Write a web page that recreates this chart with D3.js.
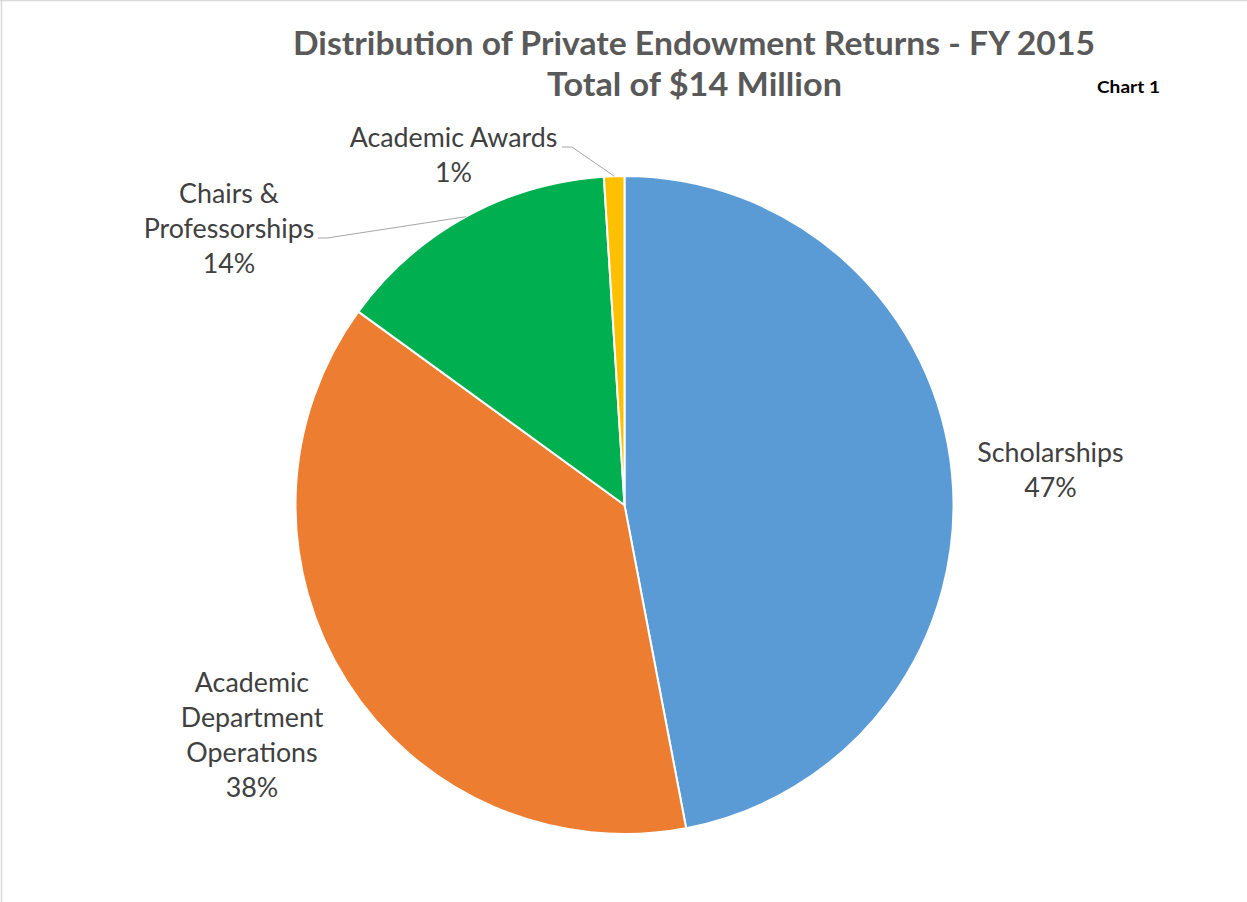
<!DOCTYPE html>
<html><head><meta charset="utf-8">
<script src="https://cdn.jsdelivr.net/npm/d3@7"></script>
<style>body{margin:0;background:#fff}svg{display:block}</style>
</head><body>
<svg id="c" width="1247" height="902"></svg>
<script>
const categories = ["Scholarships", "Academic Department Operations", "Chairs & Professorships", "Academic Awards"];
const values = [47, 38, 14, 1];
const colors = ["#5B9BD5", "#ED7D31", "#00B050", "#FFC000"];
const labelLines = [["Scholarships"], ["Academic", "Department", "Operations"], ["Chairs &", "Professorships"], ["Academic Awards"]];
const titleLines = ["Distribution of Private Endowment Returns - FY 2015", "Total of $14 Million"];
const chartTag = "Chart 1";

// layout
const W = 1247, H = 902, cx = 624.5, cy = 505, R = 329;
const labelLayout = [
  {x: 1050.5, y: 462, leader: false},
  {x: 252, y: 692, leader: false},
  {x: 229, y: 203, leader: true, lx: 318, ly: 238, kx: 327},
  {x: 453.5, y: 147, leader: true, lx: 562, ly: 147, kx: 572}
];
const lh = 35;

const svg = d3.select("#c");
svg.append("line").attr("x1",0).attr("x2",W).attr("y1",0.5).attr("y2",0.5).attr("stroke","#d9d9d9").attr("stroke-width",1.5);
svg.append("line").attr("x1",1.5).attr("x2",1.5).attr("y1",0).attr("y2",H).attr("stroke","#d9d9d9").attr("stroke-width",1.5);

svg.append("text").attr("x",694).attr("y",55).attr("text-anchor","middle")
  .attr("font-family","Lato, sans-serif").attr("font-weight","bold").attr("font-size",32).attr("fill","#595959")
  .attr("textLength",802).attr("lengthAdjust","spacingAndGlyphs").text(titleLines[0]);
svg.append("text").attr("x",694.5).attr("y",96).attr("text-anchor","middle")
  .attr("font-family","Lato, sans-serif").attr("font-weight","bold").attr("font-size",32).attr("fill","#595959")
  .attr("textLength",295).attr("lengthAdjust","spacingAndGlyphs").text(titleLines[1]);
svg.append("text").attr("x",1097).attr("y",93)
  .attr("font-family","Lato, sans-serif").attr("font-weight","bold").attr("font-size",17).attr("fill","#000")
  .attr("textLength",63).attr("lengthAdjust","spacingAndGlyphs").text(chartTag);

const data = categories.map((c,i)=>({cat:c, value:values[i], color:colors[i], lines:labelLines[i], lay:labelLayout[i]}));
const pie = d3.pie().value(d=>d.value).sort(null);
const arcs = pie(data);
const arc = d3.arc().innerRadius(0).outerRadius(R);
const g = svg.append("g").attr("transform",`translate(${cx},${cy})`);
g.selectAll("path").data(arcs).join("path").attr("d",arc).attr("fill",d=>d.data.color)
  .attr("stroke","#fff").attr("stroke-width",2).attr("stroke-linejoin","round");

const total = d3.sum(values);
arcs.forEach(a=>{
  const L = a.data.lay;
  if (L.leader) {
    const mid = (a.startAngle + a.endAngle)/2;
    const px = cx + R*Math.sin(mid), py = cy - R*Math.cos(mid);
    svg.append("polyline").attr("points",`${L.lx},${L.ly} ${L.kx},${L.ly} ${px},${py}`)
      .attr("fill","none").attr("stroke","#a6a6a6").attr("stroke-width",1);
  }
  const t = svg.append("text").attr("text-anchor","middle")
    .attr("font-family","Lato, sans-serif").attr("font-size",26.8).attr("fill","#404040");
  const lines = a.data.lines.concat([Math.round(a.data.value/total*100)+"%"]);
  lines.forEach((s,i)=>t.append("tspan").attr("x",L.x).attr("y",L.y+i*lh).text(s));
});
</script>
</body></html>
